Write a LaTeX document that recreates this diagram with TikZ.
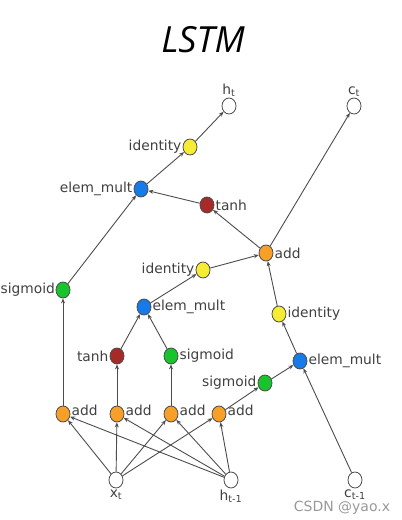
\documentclass[tikz,border=0pt]{standalone}
\usepackage{fontspec}
\setmainfont{DejaVu Sans}
\newfontfamily\titlefont{Open Sans}
\usetikzlibrary{shapes.geometric,arrows.meta}
\definecolor{addc}{RGB}{246,160,42}
\definecolor{sigc}{RGB}{24,196,44}
\definecolor{tanc}{RGB}{168,42,40}
\definecolor{mulc}{RGB}{22,122,232}
\definecolor{idc}{RGB}{246,236,52}

\begin{document}
\begin{tikzpicture}[
    x=1pt, y=-1pt,
    every node/.style={font=\fontsize{13.8}{16}\selectfont, text=black!75},
    every label/.style={inner sep=1pt},
    op/.style={ellipse, draw=black!70, line width=0.8pt, minimum width=14pt,
               minimum height=16pt, inner sep=0pt},
    io/.style={op, fill=white},
    addop/.style={op, fill=addc},
    sig/.style={op, fill=sigc},
    tnh/.style={op, fill=tanc},
    mult/.style={op, fill=mulc},
    idn/.style={op, fill=idc},
    arr/.style={-{Stealth[length=5pt,width=4pt]}, draw=black!70, line width=0.9pt},
]
\useasboundingbox (0,0) rectangle (402,520);

% Title
\node[font=\titlefont\itshape\fontsize{36}{40}\selectfont, text=black] (title) at (203,40) {LSTM};

% Outputs
\node[io, label=above:h\textsubscript{t}] (ht) at (229,106) {};
\node[io, label=above:c\textsubscript{t}] (ct) at (354,106) {};

% Cell
\node[idn,  label=left:identity]    (id1) at (190,147) {};
\node[mult, label=left:elem\_mult]  (em1) at (141,189) {};
\node[tnh,  label=right:tanh]       (th1) at (207,205) {};
\node[addop,label=right:add]        (ad0) at (266,253) {};
\node[sig,  label={[inner sep=0.5pt]left:sigmoid}] (sg1) at (63,290) {};
\node[idn,  label=left:identity]    (id2) at (203,270) {};
\node[mult, label=right:elem\_mult] (em2) at (144,307) {};
\node[idn,  label=right:identity]   (id3) at (279,314) {};
\node[tnh,  label=left:tanh]        (th2) at (117,356) {};
\node[sig,  label=right:sigmoid]    (sg2) at (171,356) {};
\node[mult, label=right:elem\_mult] (em3) at (300,361) {};
\node[sig,  label=left:sigmoid]     (sg3) at (265,383) {};

% Gate sums
\node[addop, label={[yshift=4pt]right:add}] (ad1) at (63,414) {};
\node[addop, label={[yshift=4pt]right:add}] (ad2) at (117,414) {};
\node[addop, label={[yshift=4pt]right:add}] (ad3) at (171,414) {};
\node[addop, label={[yshift=4pt]right:add}] (ad4) at (219,414) {};

% Inputs
\node[io, label=below:x\textsubscript{t}]   (xt) at (116,480) {};
\node[io, label=below:h\textsubscript{t-1}] (hp) at (231,480) {};
\node[io, label=below:c\textsubscript{t-1}] (cp) at (355,480) {};

\node[font=\fontsize{14}{16}\selectfont, text=black!40] (mark) at (342,508) {CSDN @yao.x};

% Arrows
\draw[arr] (id1) -- (ht);
\draw[arr] (em1) -- (id1);
\draw[arr] (th1) -- (em1);
\draw[arr] (sg1) -- (em1);
\draw[arr] (ad0) -- (th1);
\draw[arr] (ad0) -- (ct);
\draw[arr] (id2) -- (ad0);
\draw[arr] (id3) -- (ad0);
\draw[arr] (em2) -- (id2);
\draw[arr] (th2) -- (em2);
\draw[arr] (sg2) -- (em2);
\draw[arr] (em3) -- (id3);
\draw[arr] (sg3) -- (em3);
\draw[arr] (cp) -- (em3);
\draw[arr] (ad1) -- (sg1);
\draw[arr] (ad2) -- (th2);
\draw[arr] (ad3) -- (sg2);
\draw[arr] (ad4) -- (sg3);
\foreach \a in {ad1,ad2,ad3,ad4} {
  \draw[arr] (xt) -- (\a);
  \draw[arr] (hp) -- (\a);
}

\end{tikzpicture}
\end{document}
